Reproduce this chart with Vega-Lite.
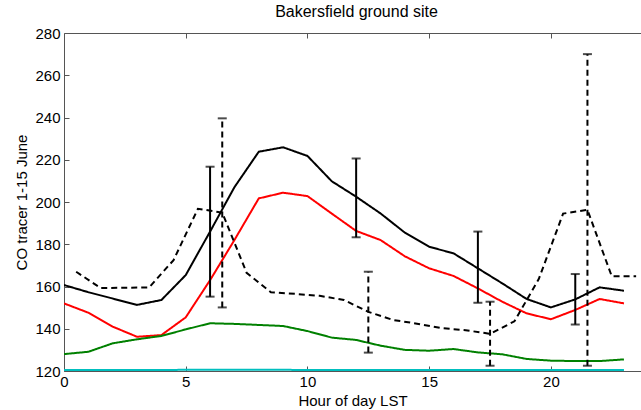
{
  "$schema": "https://vega.github.io/schema/vega-lite/v6.json",
  "width": 577,
  "height": 338,
  "autosize": "none",
  "padding": {"left": 64, "top": 33, "right": 0, "bottom": 39},
  "background": "white",
  "config": {
    "view": {"stroke": null},
    "font": "Liberation Sans",
    "axis": {
      "labelFont": "Liberation Sans",
      "titleFont": "Liberation Sans",
      "labelFontSize": 15,
      "titleFontSize": 15,
      "titleFontWeight": "normal",
      "labelColor": "#000",
      "titleColor": "#000",
      "domainColor": "#555",
      "tickColor": "#555",
      "grid": false,
      "tickSize": -5,
      "labelFlush": false
    }
  },
  "title": {
    "text": "Bakersfield ground site",
    "font": "Liberation Sans",
    "fontSize": 16,
    "fontWeight": "normal",
    "color": "#000",
    "offset": 6,
    "dx": 4
  },
  "datasets": {
    "lines": [
      {"series": "obs", "hour": 0, "value": 160.7},
      {"series": "obs", "hour": 1, "value": 157.3},
      {"series": "obs", "hour": 2, "value": 154.3},
      {"series": "obs", "hour": 3, "value": 151.3},
      {"series": "obs", "hour": 4, "value": 153.6},
      {"series": "obs", "hour": 5, "value": 165.4},
      {"series": "obs", "hour": 6, "value": 186},
      {"series": "obs", "hour": 7, "value": 207},
      {"series": "obs", "hour": 8, "value": 223.8},
      {"series": "obs", "hour": 9, "value": 225.9},
      {"series": "obs", "hour": 10, "value": 221.8},
      {"series": "obs", "hour": 11, "value": 209.8},
      {"series": "obs", "hour": 12, "value": 202.5},
      {"series": "obs", "hour": 13, "value": 194.6},
      {"series": "obs", "hour": 14, "value": 185.5},
      {"series": "obs", "hour": 15, "value": 178.8},
      {"series": "obs", "hour": 16, "value": 175.7},
      {"series": "obs", "hour": 17, "value": 168.6},
      {"series": "obs", "hour": 18, "value": 161.5},
      {"series": "obs", "hour": 19, "value": 154.1},
      {"series": "obs", "hour": 20, "value": 150.1},
      {"series": "obs", "hour": 21, "value": 153.9},
      {"series": "obs", "hour": 22, "value": 159.6},
      {"series": "obs", "hour": 23, "value": 158},
      {"series": "model", "hour": 0, "value": 152},
      {"series": "model", "hour": 1, "value": 147.6},
      {"series": "model", "hour": 2, "value": 141},
      {"series": "model", "hour": 3, "value": 136.2},
      {"series": "model", "hour": 4, "value": 137},
      {"series": "model", "hour": 5, "value": 145.4},
      {"series": "model", "hour": 6, "value": 163},
      {"series": "model", "hour": 7, "value": 182},
      {"series": "model", "hour": 8, "value": 201.7},
      {"series": "model", "hour": 9, "value": 204.4},
      {"series": "model", "hour": 10, "value": 202.8},
      {"series": "model", "hour": 11, "value": 194.5},
      {"series": "model", "hour": 12, "value": 186.3},
      {"series": "model", "hour": 13, "value": 182},
      {"series": "model", "hour": 14, "value": 174.3},
      {"series": "model", "hour": 15, "value": 168.6},
      {"series": "model", "hour": 16, "value": 165},
      {"series": "model", "hour": 17, "value": 159.1},
      {"series": "model", "hour": 18, "value": 152.8},
      {"series": "model", "hour": 19, "value": 147.3},
      {"series": "model", "hour": 20, "value": 144.5},
      {"series": "model", "hour": 21, "value": 148.9},
      {"series": "model", "hour": 22, "value": 154.1},
      {"series": "model", "hour": 23, "value": 152},
      {"series": "bg", "hour": 0, "value": 128},
      {"series": "bg", "hour": 1, "value": 129.1},
      {"series": "bg", "hour": 2, "value": 133.1},
      {"series": "bg", "hour": 3, "value": 135},
      {"series": "bg", "hour": 4, "value": 136.6},
      {"series": "bg", "hour": 5, "value": 139.7},
      {"series": "bg", "hour": 6, "value": 142.6},
      {"series": "bg", "hour": 7, "value": 142.3},
      {"series": "bg", "hour": 8, "value": 141.8},
      {"series": "bg", "hour": 9, "value": 141.3},
      {"series": "bg", "hour": 10, "value": 138.9},
      {"series": "bg", "hour": 11, "value": 135.8},
      {"series": "bg", "hour": 12, "value": 134.7},
      {"series": "bg", "hour": 13, "value": 132},
      {"series": "bg", "hour": 14, "value": 130},
      {"series": "bg", "hour": 15, "value": 129.6},
      {"series": "bg", "hour": 16, "value": 130.4},
      {"series": "bg", "hour": 17, "value": 128.8},
      {"series": "bg", "hour": 18, "value": 127.9},
      {"series": "bg", "hour": 19, "value": 125.7},
      {"series": "bg", "hour": 20, "value": 124.9},
      {"series": "bg", "hour": 21, "value": 124.7},
      {"series": "bg", "hour": 22, "value": 124.7},
      {"series": "bg", "hour": 23, "value": 125.5},
      {"series": "base", "hour": 0, "value": 120.5},
      {"series": "base", "hour": 2, "value": 120.5},
      {"series": "base", "hour": 4, "value": 120.5},
      {"series": "base", "hour": 6, "value": 120.6},
      {"series": "base", "hour": 8, "value": 120.6},
      {"series": "base", "hour": 10, "value": 120.5},
      {"series": "base", "hour": 12, "value": 120.5},
      {"series": "base", "hour": 14, "value": 120.5},
      {"series": "base", "hour": 16, "value": 120.5},
      {"series": "base", "hour": 18, "value": 120.5},
      {"series": "base", "hour": 20, "value": 120.5},
      {"series": "base", "hour": 23, "value": 120.5},
      {"series": "obs2", "hour": 0.5, "value": 167},
      {"series": "obs2", "hour": 1.5, "value": 159.3},
      {"series": "obs2", "hour": 2.5, "value": 159.4},
      {"series": "obs2", "hour": 3.5, "value": 159.6},
      {"series": "obs2", "hour": 4.5, "value": 172.5},
      {"series": "obs2", "hour": 5.5, "value": 196.8},
      {"series": "obs2", "hour": 6.5, "value": 195},
      {"series": "obs2", "hour": 7.5, "value": 166.5},
      {"series": "obs2", "hour": 8.5, "value": 157.3},
      {"series": "obs2", "hour": 9.5, "value": 156.5},
      {"series": "obs2", "hour": 10.5, "value": 155.6},
      {"series": "obs2", "hour": 11.5, "value": 153.6},
      {"series": "obs2", "hour": 12.5, "value": 148},
      {"series": "obs2", "hour": 13.5, "value": 144.2},
      {"series": "obs2", "hour": 14.5, "value": 142.4},
      {"series": "obs2", "hour": 15.5, "value": 140.3},
      {"series": "obs2", "hour": 16.5, "value": 139.3},
      {"series": "obs2", "hour": 17.5, "value": 137.6},
      {"series": "obs2", "hour": 18.5, "value": 143.5},
      {"series": "obs2", "hour": 19.5, "value": 163.5},
      {"series": "obs2", "hour": 20.5, "value": 194.5},
      {"series": "obs2", "hour": 21.5, "value": 196.3},
      {"series": "obs2", "hour": 22.5, "value": 164.8},
      {"series": "obs2", "hour": 23.5, "value": 164.8}
    ],
    "bars": [
      {"style": "solid", "hour": 6, "lo": 155.2, "hi": 216.7},
      {"style": "solid", "hour": 12, "lo": 183.3, "hi": 220.6},
      {"style": "solid", "hour": 17, "lo": 152.3, "hi": 186},
      {"style": "solid", "hour": 21, "lo": 142, "hi": 165.9},
      {"style": "dashed", "hour": 6.5, "lo": 150.1, "hi": 239.6},
      {"style": "dashed", "hour": 12.5, "lo": 128.7, "hi": 167},
      {"style": "dashed", "hour": 17.5, "lo": 122.5, "hi": 152.8},
      {"style": "dashed", "hour": 21.5, "lo": 122.5, "hi": 270}
    ]
  },
  "layer": [
    {
      "data": {"name": "lines"},
      "mark": {"type": "line", "clip": true},
      "encoding": {
        "x": {
          "field": "hour", "type": "quantitative",
          "scale": {"domain": [0, 23.7], "nice": false, "zero": false},
          "axis": {"orient": "bottom", "values": [0, 5, 10, 15, 20], "labelPadding": 8, "title": "Hour of day LST", "titlePadding": 4, "titleFontWeight": "normal"}
        },
        "y": {
          "field": "value", "type": "quantitative",
          "scale": {"domain": [120, 280], "nice": false, "zero": false},
          "axis": {"orient": "left", "values": [120, 140, 160, 180, 200, 220, 240, 260, 280], "labelPadding": 9, "title": "CO tracer 1-15 June", "titlePadding": 5, "titleFontWeight": "normal"}
        },
        "color": {
          "field": "series", "type": "nominal", "legend": null,
          "scale": {"domain": ["obs", "obs2", "model", "bg", "base"], "range": ["#000000", "#000000", "#ff0000", "#008000", "#00bfbf"]}
        },
        "strokeDash": {
          "field": "series", "type": "nominal", "legend": null,
          "scale": {"domain": ["obs", "obs2", "model", "bg", "base"], "range": [[1, 0], [6, 4], [1, 0], [1, 0], [1, 0]]}
        },
        "size": {
          "field": "series", "type": "nominal", "legend": null,
          "scale": {"domain": ["obs", "obs2", "model", "bg", "base"], "range": [2, 2, 2, 2.6, 3]}
        }
      }
    },
    {
      "data": {"name": "bars"},
      "mark": {"type": "rule", "color": "#000", "strokeWidth": 2},
      "encoding": {
        "x": {"field": "hour", "type": "quantitative", "axis": {"orient": "top", "values": [5, 10, 15, 20], "labels": false, "title": null, "tickSize": -5, "ticks": true}},
        "y": {"field": "lo", "type": "quantitative", "axis": {"orient": "left", "values": [120, 140, 160, 180, 200, 220, 240, 260, 280], "labelPadding": 9, "title": "CO tracer 1-15 June", "titlePadding": 5, "titleFontWeight": "normal"}},
        "y2": {"field": "hi"},
        "strokeDash": {
          "field": "style", "type": "nominal", "legend": null,
          "scale": {"domain": ["solid", "dashed"], "range": [[1, 0], [5, 3]]}
        }
      }
    },
    {
      "data": {"name": "bars"},
      "mark": {"type": "tick", "orient": "horizontal", "color": "#000", "size": 9, "thickness": 2},
      "encoding": {
        "x": {"field": "hour", "type": "quantitative", "axis": null},
        "y": {"field": "lo", "type": "quantitative", "axis": {"orient": "left", "values": [120, 140, 160, 180, 200, 220, 240, 260, 280], "labelPadding": 9, "title": "CO tracer 1-15 June", "titlePadding": 5, "titleFontWeight": "normal"}}
      }
    },
    {
      "data": {"name": "bars"},
      "mark": {"type": "tick", "orient": "horizontal", "color": "#000", "size": 9, "thickness": 2},
      "encoding": {
        "x": {"field": "hour", "type": "quantitative", "axis": null},
        "y": {"field": "hi", "type": "quantitative", "axis": {"orient": "left", "values": [120, 140, 160, 180, 200, 220, 240, 260, 280], "labelPadding": 9, "title": "CO tracer 1-15 June", "titlePadding": 5, "titleFontWeight": "normal"}}
      }
    }
  ]
}
